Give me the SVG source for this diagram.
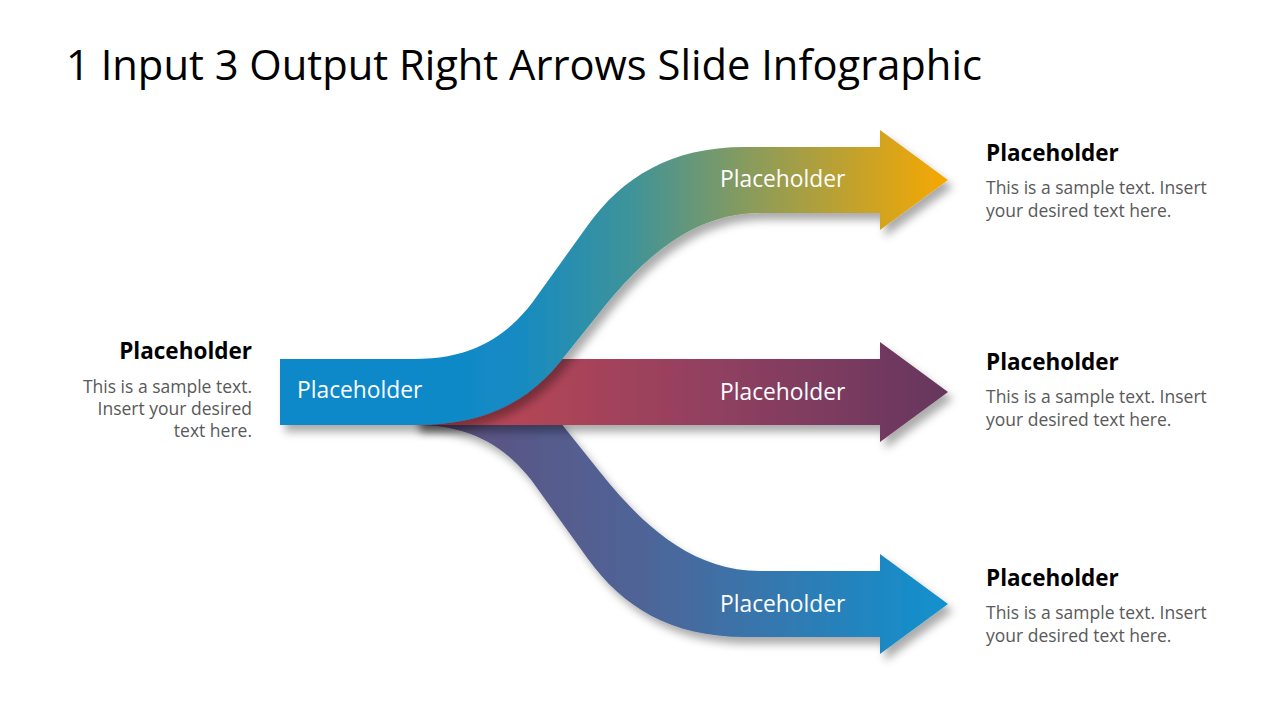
<svg xmlns="http://www.w3.org/2000/svg" width="1280" height="720" viewBox="0 0 1280 720">
  <defs>
    <linearGradient id="gTop" gradientUnits="userSpaceOnUse" x1="415" y1="0" x2="948" y2="0">
      <stop offset="0" stop-color="#0F89C9"/>
      <stop offset="0.18" stop-color="#138AC4"/>
      <stop offset="0.4" stop-color="#3D939A"/>
      <stop offset="0.62" stop-color="#879B5E"/>
      <stop offset="1" stop-color="#F7A800"/>
    </linearGradient>
    <linearGradient id="gMid" gradientUnits="userSpaceOnUse" x1="480" y1="0" x2="948" y2="0">
      <stop offset="0" stop-color="#BA4654"/>
      <stop offset="0.5" stop-color="#914060"/>
      <stop offset="1" stop-color="#66365D"/>
    </linearGradient>
    <linearGradient id="gBot" gradientUnits="userSpaceOnUse" x1="440" y1="0" x2="948" y2="0">
      <stop offset="0" stop-color="#5E5180"/>
      <stop offset="0.4" stop-color="#4F6497"/>
      <stop offset="1" stop-color="#1092CF"/>
    </linearGradient>
    <filter id="shadow" x="-10%" y="-20%" width="130%" height="150%">
      <feDropShadow dx="5" dy="7" stdDeviation="4.5" flood-color="#000" flood-opacity="0.33"/>
    </filter>
  </defs>
  <style>
    .title { font-family: "Open Sans", "Noto Sans", sans-serif; font-size: 41.7px; fill: #000; }
    .lbl { font-family: "Open Sans", "Noto Sans", sans-serif; font-size: 22.8px; fill: #fff; }
    .head { font-family: "Open Sans", "Noto Sans", sans-serif; font-size: 22.5px; font-weight: bold; fill: #000; }
    .body { font-family: "Open Sans", "Noto Sans", sans-serif; font-size: 17.5px; fill: #595959; }
    .ribbon { filter: url(#shadow); }
  </style>
  <rect width="1280" height="720" fill="#fff"/>
  <text class="title" x="66" y="80">1 Input 3 Output Right Arrows Slide Infographic</text>

  <g id="connectors">
    <g id="arrow-bottom">
      <path class="ribbon" fill="url(#gBot)" d="M415,425 C470,425 505,446 532,481 L588,559 C622,606 670,637 745,637 H880 V654 L948,604 L880,554 V571 H760 C690,571 640,522 600,472 L560,422 C525,379 480,359 415,359 Z"/>
      <text class="lbl" x="720" y="612">Placeholder</text>
    </g>
    <g id="arrow-middle">
      <path class="ribbon" fill="url(#gMid)" d="M415,359 H880 V342 L948,392 L880,442 V425 H415 Z"/>
      <text class="lbl" x="720" y="400">Placeholder</text>
    </g>
    <g id="arrow-top">
      <path class="ribbon" fill="url(#gTop)" d="M280,359 H415 C470,359 505,338 532,303 L588,225 C622,178 670,147 745,147 H880 V130 L948,180 L880,230 V213 H760 C690,213 640,262 600,312 L560,362 C525,405 480,425 415,425 H280 Z"/>
      <text class="lbl" x="720" y="187">Placeholder</text>
    </g>
  </g>

  <g id="input">
    <text class="lbl" x="297" y="398">Placeholder</text>
  </g>

  <g id="input-text" text-anchor="end">
    <text class="head" x="252" y="359">Placeholder</text>
    <text class="body" x="252" y="393">This is a sample text.</text>
    <text class="body" x="252" y="415">Insert your desired</text>
    <text class="body" x="252" y="437">text here.</text>
  </g>

  <g id="output-1-text">
    <text class="head" x="986" y="161">Placeholder</text>
    <text class="body" x="986" y="194">This is a sample text. Insert</text>
    <text class="body" x="986" y="217">your desired text here.</text>
  </g>
  <g id="output-2-text">
    <text class="head" x="986" y="370">Placeholder</text>
    <text class="body" x="986" y="403">This is a sample text. Insert</text>
    <text class="body" x="986" y="426">your desired text here.</text>
  </g>
  <g id="output-3-text">
    <text class="head" x="986" y="586">Placeholder</text>
    <text class="body" x="986" y="619">This is a sample text. Insert</text>
    <text class="body" x="986" y="642">your desired text here.</text>
  </g>
</svg>
